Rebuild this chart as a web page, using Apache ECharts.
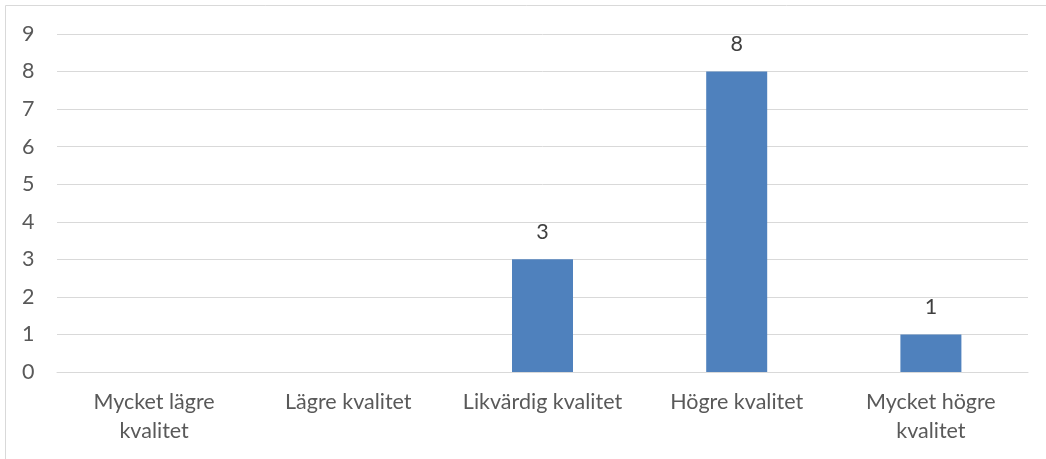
<!DOCTYPE html>
<html>
<head>
<meta charset="utf-8">
<script src="https://cdn.jsdelivr.net/npm/echarts@6/dist/echarts.min.js"></script>
<style>
html, body { margin: 0; padding: 0; background: #fff; }
#chart { width: 1046px; height: 459px; }
</style>
</head>
<body>
<div id="chart"></div>
<script>
var categories = ['Mycket lägre\nkvalitet', 'Lägre kvalitet', 'Likvärdig kvalitet', 'Högre kvalitet', 'Mycket högre\nkvalitet'];
var values = [0, 0, 3, 8, 1];

var myChart = echarts.init(document.getElementById('chart'));
var option = {
    animation: false,
    graphic: [
        {
            type: 'rect',
            shape: { x: 5.5, y: 5.5, width: 1100, height: 500 },
            style: { fill: 'none', stroke: '#d9d9d9', lineWidth: 1 }
        }
    ],
    grid: { left: 57, right: 18, top: 34, bottom: 87 },
    xAxis: {
        type: 'category',
        data: categories,
        axisLine: { show: true, lineStyle: { color: '#d9d9d9' } },
        axisTick: { show: false },
        axisLabel: {
            color: '#595959',
            fontFamily: 'Lato',
            fontSize: 21.5,
            lineHeight: 29,
            margin: 16,
            interval: 0
        }
    },
    yAxis: {
        type: 'value',
        min: 0,
        max: 9,
        interval: 1,
        axisLine: { show: false },
        axisTick: { show: false },
        splitLine: { lineStyle: { color: '#d9d9d9', width: 1 } },
        axisLabel: {
            color: '#595959',
            fontFamily: 'Lato',
            fontSize: 21.5,
            margin: 35,
            align: 'left'
        }
    },
    series: [
        {
            type: 'bar',
            data: values,
            barWidth: 61,
            itemStyle: { color: '#4f81bd' },
            label: {
                show: true,
                position: 'top',
                distance: 16,
                color: '#404040',
                fontFamily: 'Lato',
                fontSize: 21.5,
                formatter: function (p) { return p.value === 0 ? '' : p.value; }
            }
        }
    ]
};
myChart.setOption(option);
</script>
</body>
</html>
